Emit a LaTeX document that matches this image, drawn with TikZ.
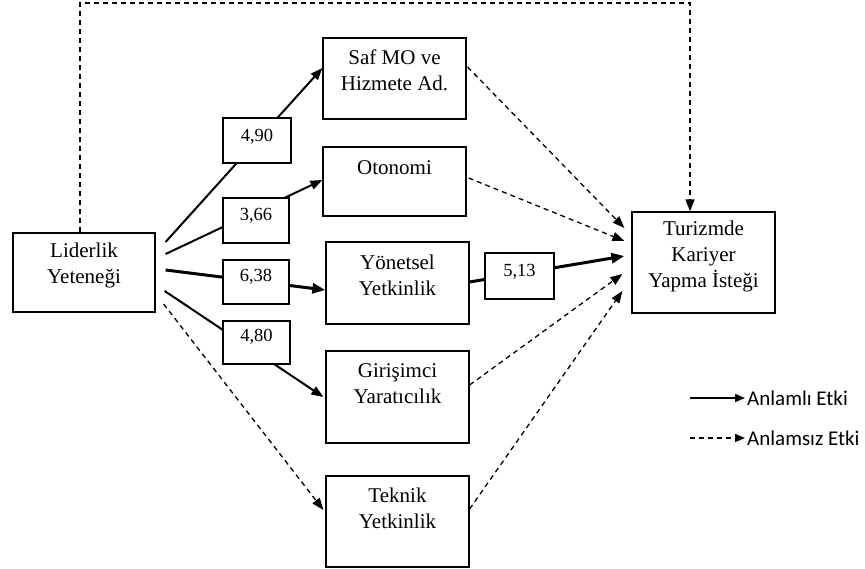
\documentclass[tikz,border=0pt]{standalone}
\usepackage{fontspec}
\setmainfont{Liberation Serif}
\newfontfamily\legendfont{Carlito}
\usetikzlibrary{arrows.meta,calc}
\begin{document}
\begin{tikzpicture}[x=1pt,y=-1pt,
  box/.style={draw,line width=1.2pt,fill=white,inner sep=0pt},
  txt/.style={inner sep=0pt,align=center,font=\fontsize{21}{26}\selectfont},
  lbl/.style={inner sep=0pt,font=\fontsize{18.5}{20}\selectfont},
  sig/.style={line width=2pt,-{Triangle[length=12pt,width=9pt]}},
  sigthick/.style={line width=3pt,-{Triangle[length=13pt,width=10pt]}},
  nsig/.style={line width=1.3pt,dash pattern=on 5pt off 4pt,-{Triangle[length=12pt,width=9pt]}},
  leg/.style={inner sep=0pt,anchor=west,font=\legendfont\fontsize{21}{24}\selectfont}]
\useasboundingbox (0,0) rectangle (865,569);

% main boxes
\node[box,minimum width=142pt,minimum height=79pt] (lid) at (84,272.5) {};
\node[box,minimum width=143pt,minimum height=81pt] (saf) at (394.5,78.5) {};
\node[box,minimum width=143pt,minimum height=69pt] (oto) at (394.5,181.5) {};
\node[box,minimum width=143pt,minimum height=82pt] (yon) at (397.5,283) {};
\node[box,minimum width=143pt,minimum height=92pt] (gir) at (397.5,397) {};
\node[box,minimum width=143pt,minimum height=91pt] (tek) at (397.5,521.5) {};
\node[box,minimum width=143pt,minimum height=101pt] (tur) at (703.5,262.5) {};

% box texts
\node[txt] (lidt) at (84,265) {Liderlik\\Yeteneği};
\node[txt] (saft) at (394.5,70) {Saf MO ve\\Hizmete Ad.};
\node[txt] (otot) at (394.5,168) {Otonomi};
\node[txt] (yont) at (397.5,275) {Yönetsel\\Yetkinlik};
\node[txt] (girt) at (397.5,383.5) {Girişimci\\Yaratıcılık};
\node[txt] (tekt) at (397.5,508.5) {Teknik\\Yetkinlik};
\node[txt] (turt) at (703.5,256.5) {Turizmde\\Kariyer\\Yapma İsteği};

% start/end coordinates
\coordinate (l1) at ($(lid.east)+(10,-30.5)$);
\coordinate (l2) at ($(lid.east)+(10,-18.5)$);
\coordinate (l3) at ($(lid.east)+(10,-2.5)$);
\coordinate (l4) at ($(lid.east)+(9,18.5)$);
\coordinate (l5) at ($(lid.east)+(8,31.5)$);

\draw[sig] (l1) -- ($(saf.west)+(0,-10.5)$);
\draw[sig] (l2) -- ($(oto.west)+(0,-1.5)$);
\draw[sigthick] (l3) -- ($(yon.west)+(0,7)$);
\draw[sig] (l4) -- ($(gir.west)+(-2,0)$);
\draw[nsig] (l5) -- ($(tek.west)+(-2,-11.5)$);

\draw[nsig] ($(saf.east)+(1,-11.5)$) -- ($(tur.west)+(-7,-34.5)$);
\draw[nsig] ($(oto.east)+(2,-3.5)$) -- ($(tur.west)+(-7,-21.5)$);
\draw[sigthick] ($(yon.east)+(0,-1)$) -- ($(tur.west)+(-7,-6.5)$);
\draw[nsig] ($(gir.east)+(0,-12)$) -- ($(tur.west)+(-9,11.5)$);
\draw[nsig] ($(tek.east)+(0,-12.5)$) -- ($(tur.west)+(-9,28.5)$);

% top dashed connector
\coordinate (lidtop) at ($(lid.north)+(-4,0)$);
\coordinate (turtop) at ($(tur.north)+(-13.5,0)$);
\coordinate (topy) at (0,3);
\draw[nsig] (lidtop) |- (topy -| turtop) -- (turtop);

% coefficient boxes
\node[box,minimum width=68pt,minimum height=45pt] (c1) at (257,140.5) {};
\node[box,minimum width=66pt,minimum height=45pt] (c2) at (256,220.5) {};
\node[box,minimum width=66pt,minimum height=44pt] (c3) at (256,282) {};
\node[box,minimum width=67pt,minimum height=43pt] (c4) at (256.5,342.5) {};
\node[box,minimum width=69pt,minimum height=46pt] (c5) at (519.5,276) {};
\node[lbl] (c1t) at (257,137) {4,90};
\node[lbl] (c2t) at (256,216) {3,66};
\node[lbl] (c3t) at (256,276.5) {6,38};
\node[lbl] (c4t) at (256.5,337) {4,80};
\node[lbl] (c5t) at (519.5,272) {5,13};

% legend
\coordinate (la1) at (690,398);
\coordinate (la2) at (745,398);
\coordinate (lb1) at (690,438);
\coordinate (lb2) at (745,438);
\draw[line width=1.5pt,-{Triangle[length=10pt,width=8pt]}] (la1) -- (la2);
\draw[line width=1.3pt,dash pattern=on 5pt off 4pt,-{Triangle[length=10pt,width=8pt]}] (lb1) -- (lb2);
\node[leg] (lga) at (747,398) {Anlamlı Etki};
\node[leg] (lgb) at (747,438) {Anlamsız Etki};
\end{tikzpicture}
\end{document}
